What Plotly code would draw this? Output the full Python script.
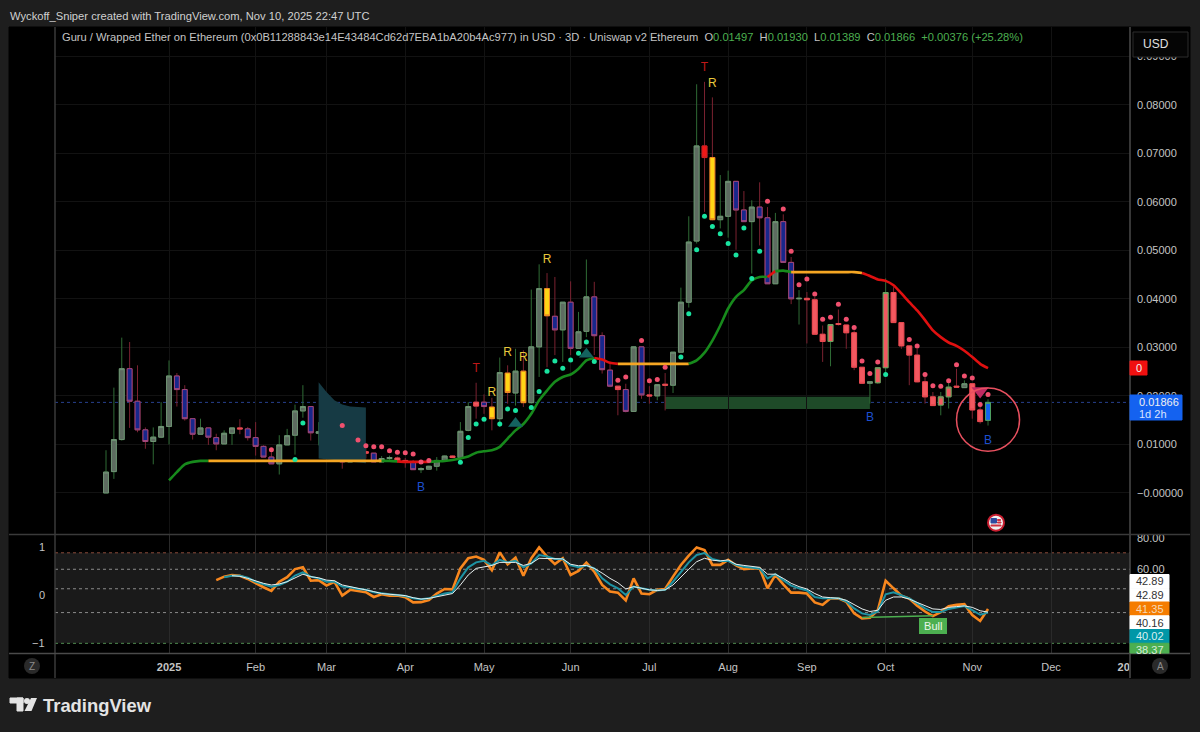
import pandas as pd
import plotly.graph_objects as go

bar_dates = pd.date_range("2024-12-08", periods=113, freq="3D")

bar_open = [
    0.0000, .0044, .0110, .0256, .0189, .0130, .0106, .0115, .0137, .0241,
    .0213, .0153, .0121, .0134, .0114, .0101, .0123, .0134, .0132, .0114,
    .0096, .0074, .0060, .0099, .0119, .0169, .0178, .0123, .0126, .0104,
    .0127, .0064, .0090, .0085, .0082, .0064, .0071, .0072, .0067, .0064,
    .0048, .0049, .0055, .0067, .0076, .0073, .0129, .0187, .0187, .0177,
    .0153, .0247, .0206, .0251, .0186, .0301, .0421, .0364, .0336, .0393,
    .0298, .0333, .0404, .0324, .0253, .0220, .0213, .0168, .0301, .0202,
    .0200, .0224, .0222, .0290, .0393, .0519, .0715, .0691, .0563, .0570,
    .0642, .0583, .0559, .0589, .0567, .0431, .0559, .0475, .0400, .0401,
    .0398, .0327, .0312, .0349, .0346, .0330, .0259, .0226, .0227, .0258,
    .0413, .0351, .0303, .0284, .0229, .0198, .0181, .0198, .0220, .0217,
    .0225, .0171, .01497,
]
bar_high = [
    .0088, .0217, .0320, .0311, .0263, .0135, .0135, .0187, .0273, .0247,
    .0222, .0153, .0153, .0134, .0122, .0129, .0134, .0152, .0136, .0146,
    .0098, .0084, .0119, .0132, .0182, .0222, .0178, .0146, .0146, .0155,
    .0137, .0108, .0105, .0092, .0082, .0076, .0077, .0075, .0072, .0068,
    .0053, .0056, .0074, .0077, .0077, .0146, .0187, .0227, .0203, .0196,
    .0279, .0263, .0297, .0294, .0419, .0471, .0453, .0445, .0393, .0436,
    .0373, .0481, .0435, .0331, .0266, .0220, .0225, .0301, .0301, .0220,
    .0223, .0247, .0290, .0423, .0570, .0842, .0847, .0815, .0655, .0664,
    .0642, .0622, .0603, .0640, .0589, .0577, .0574, .0486, .0418, .0414,
    .0404, .0345, .0347, .0378, .0346, .0335, .0259, .0229, .0258, .0442,
    .0424, .0351, .0303, .0297, .0239, .0208, .0208, .0229, .0256, .0232,
    .0225, .0187, .01930,
]
bar_low = [
    0.0000, .0029, .0108, .0134, .0125, .0091, .0059, .0113, .0100, .0178,
    .0149, .0110, .0121, .0099, .0088, .0101, .0099, .0121, .0108, .0077,
    .0074, .0060, .0038, .0099, .0079, .0155, .0108, .0098, .0098, .0084,
    .0050, .0064, .0064, .0071, .0064, .0064, .0064, .0062, .0052, .0048,
    .0041, .0049, .0046, .0066, .0072, .0072, .0127, .0153, .0163, .0129,
    .0136, .0184, .0180, .0177, .0184, .0239, .0259, .0284, .0270, .0284,
    .0298, .0321, .0284, .0246, .0218, .0160, .0166, .0168, .0194, .0184,
    .0191, .0170, .0206, .0290, .0382, .0514, .0579, .0562, .0545, .0526,
    .0501, .0559, .0452, .0510, .0431, .0431, .0475, .0389, .0347, .0308,
    .0327, .0270, .0261, .0345, .0297, .0253, .0226, .0184, .0225, .0249,
    .0351, .0297, .0222, .0228, .0184, .0180, .0160, .0174, .0217, .0217,
    .0153, .0143, .01389,
]
bar_close = [
    .0043, .0110, .0256, .0189, .0130, .0106, .0115, .0137, .0241, .0213,
    .0153, .0121, .0134, .0115, .0101, .0123, .0134, .0132, .0114, .0096,
    .0074, .0060, .0099, .0118, .0169, .0178, .0124, .0126, .0105, .0127,
    .0064, .0090, .0085, .0082, .0064, .0071, .0073, .0066, .0064, .0048,
    .0050, .0055, .0067, .0076, .0073, .0127, .0178, .0179, .0178, .0153,
    .0248, .0207, .0251, .0186, .0301, .0421, .0365, .0336, .0393, .0298,
    .0332, .0404, .0324, .0254, .0220, .0213, .0168, .0301, .0202, .0200,
    .0223, .0222, .0290, .0393, .0517, .0715, .0691, .0563, .0570, .0642,
    .0583, .0559, .0589, .0567, .0431, .0559, .0475, .0400, .0401, .0398,
    .0327, .0312, .0347, .0347, .0330, .0259, .0226, .0229, .0258, .0413,
    .0351, .0303, .0284, .0229, .0198, .0180, .0198, .0218, .0218, .0225,
    .0171, .0147, .01866,
]
# u grey up, d blue down, y yellow, r red, c coral, g coral with green edge, b last bar
bar_kind = (
    "uuu" "ddd" "uuu" "ddd" "u" "dd" "uu" "c" "dddd" "uuuu" "d" "u" "d" "u" "d" "u"
    "cc" "d" "uu" "cc" "d" "uuuu" "c" "uu" "c" "d"
    "y" "u" "y" "u" "y" "uu" "y" "d" "u" "d" "uu" "ddd" "c" "d" "u" "d" "c" "u" "c"
    "uuuu" "r" "y" "uu" "dd" "u" "dd" "u" "dd" "u" "ccc" "g" "cccc"
    "u" "gg" "cccccc" "gg" "c" "u" "cc" "b"
)
assert len(bar_kind) == len(bar_open)

green_dot_bar = [24, 25, 45, 46, 47, 48, 50, 51, 52, 54, 55, 56, 57, 58, 59, 60, 61, 62,
                 73, 74, 75, 76, 77, 78, 79, 80, 81, 82, 83, 99]
green_dot_price = [.0069, .0144, .0063, .0114, .0142, .0152, .0142, .0173, .0170, .0176,
                   .0209, .0251, .0272, .0257, .0274, .0288, .0311, .0271,
                   .0280, .0369, .0501, .0570, .0549, .0534, .0514, .0490, .0546, .0442, .0498, .0244]
red_dot_bar = [21, 30, 32, 33, 34, 35, 36, 37, 38, 39, 40, 41, 65, 66, 68, 69, 70, 71,
               84, 86, 87, 88, 89, 90, 91, 92, 93, 94, 95, 96, 97, 98,
               102, 103, 104, 105, 106, 107, 108, 109, 110, 111, 112]
red_dot_price = [.0089, .0139, .0109, .0097, .0095, .0095, .0087, .0084, .0083, .0080, .0064, .0067,
                 .0232, .0239, .0314, .0231, .0234, .0259,
                 .0601, .0585, .0498, .0429, .0441, .0410, .0358, .0362, .0389, .0358, .0341, .0272, .0246, .0270,
                 .0316, .0303, .0244, .0221, .0220, .0231, .0264, .0241, .0237, .0182, .0203]

trend_first_bar = 8
trend_value = [
    .0026, .0043, .0059, .0064, .0066,
    .0066, .0066, .0066, .0066, .0066, .0066, .0066, .0066, .0066, .0066, .0066,
    .0066, .0066, .0066, .0066, .0066, .0066, .0066, .0066, .0066, .0066, .0066,
    .0066, .0066,
    .0065, .0064, .0064, .0064,
    .0064, .0065, .0066, .0068, .0071, .0075, .0083, .0086, .0088, .0095, .0112,
    .0129, .0142, .0163, .0191, .0211, .0229, .0239, .0244, .0256, .0273,
    .0278, .0275, .0268,
    .0266, .0266, .0266, .0266, .0266, .0266, .0266, .0266, .0266,
    .0266, .0273, .0289, .0314, .0345, .0380, .0404, .0418, .0438, .0445,
    .0445,
    .0457, .0458,
    .0455, .0455, .0455, .0455, .0455, .0455, .0455, .0455, .0455,
    .0453, .0447, .0440, .0437, .0428, .0411, .0393, .0376, .0356, .0335, .0321,
    .0310, .0303, .0293, .0280, .0266, .0257,
]
trend_state = "g" * 5 + "o" * 22 + "g" * 2 + "r" * 4 + "g" * 21 + "r" * 3 + "o" * 9 + "g" * 10 + "r" + "g" * 2 + "o" * 9 + "r" * 17

shade_bar = [27, 28, 29, 30, 31, 32, 33, 33, 27]
shade_price = [.0228, .0208, .0191, .0182, .0178, .0177, .0176, .0061, .0071]

zone_bars = (71, 97)
zone_prices = (.0173, .0198)
last_price = 0.01866

arrow_up_bar = [52, 61]
arrow_up_price = [.0143, .0286]
arrow_down_bar = [111]
arrow_down_price = [.0210]

t_bar, t_price = [47, 76], [.0256, .0875]
r_bar, r_price = [49, 51, 53, 56, 77], [.0206, .0288, .0279, .0480, .0842]
b_bar, b_price = [40, 97, 112], [.0011, .0155, .0108]

rsi_first_bar = 14
rsi_value = [
    54.2, 56.0, 56.9, 56.5, 54.8, 52.6, 50.7, 49.0, 53.4, 55.7, 60.1, 61.1, 53.9, 54.2, 51.5, 53.4,
    46.9, 49.5, 49.0, 48.4, 46.3, 47.5, 46.9, 46.9, 46.2, 44.0, 44.1, 45.0, 47.8, 49.9, 49.7, 60.5,
    66.5, 67.6, 65.5, 59.5, 70.3, 62.8, 66.9, 56.5, 66.5, 73.6, 67.6, 63.0, 66.5, 56.9, 59.1, 63.8,
    58.7, 51.8, 48.7, 48.2, 44.8, 55.1, 47.8, 47.5, 49.5, 49.9, 56.0, 62.5, 68.2, 73.6, 71.8, 62.5,
    62.5, 65.5, 62.2, 60.1, 60.5, 60.5, 50.2, 56.9, 52.1, 48.2, 48.2, 47.8, 44.0, 43.0, 45.7, 45.7,
    44.3, 39.7, 37.9, 38.1, 40.9, 53.9, 50.2, 46.9, 45.6, 42.7, 40.4, 38.7, 40.2, 42.5, 43.0, 43.3,
    39.1, 37.0, 41.35,
]
teal_first_bar = 15
teal_value = [
    55.7, 56.5, 56.5, 55.4, 53.4, 52.1, 51.0, 51.8, 53.4, 56.5, 58.3, 56.0, 55.1, 53.4, 53.4, 51.0,
    50.7, 49.9, 49.5, 48.4, 47.8, 47.5, 47.2, 46.7, 45.7, 45.3, 45.7, 46.9, 47.8, 48.4, 55.1, 61.1,
    64.0, 64.9, 62.2, 65.5, 64.0, 64.9, 61.1, 63.4, 68.6, 67.6, 66.1, 66.1, 62.2, 61.1, 62.2, 60.5,
    55.1, 52.1, 50.2, 47.2, 51.0, 50.2, 49.5, 49.2, 49.5, 53.4, 58.7, 64.0, 68.6, 69.8, 66.1, 64.9,
    64.9, 62.5, 61.5, 61.0, 60.5, 55.1, 57.3, 54.2, 51.5, 50.2, 49.2, 46.3, 45.7, 45.7, 45.7, 44.5,
    41.6, 39.7, 39.1, 40.4, 47.5, 48.4, 47.2, 45.7, 43.7, 41.6, 40.2, 40.2, 41.4, 42.0, 42.5, 40.9,
    39.2, 40.02,
]
white_first_bar = 16
white_value = [
    56.5, 56.2, 55.1, 53.8, 52.6, 51.8, 52.3, 53.4, 55.4, 57.3, 56.0, 55.4, 54.2, 53.9, 51.8, 51.0,
    50.2, 49.7, 48.7, 47.8, 47.5, 47.2, 46.9, 46.0, 45.4, 45.7, 46.3, 47.2, 47.8, 51.8, 56.9, 60.5,
    61.5, 62.2, 64.0, 64.0, 64.0, 62.2, 63.4, 66.5, 66.5, 66.1, 66.1, 62.9, 62.0, 62.2, 60.5, 57.9,
    55.1, 52.9, 49.9, 51.0, 50.2, 49.5, 49.2, 49.5, 51.8, 56.0, 60.0, 64.4, 66.5, 65.3, 64.9, 65.5,
    62.9, 62.2, 61.5, 61.1, 57.3, 57.3, 55.1, 52.6, 51.0, 49.9, 47.8, 46.3, 46.0, 45.7, 44.9, 43.0,
    41.4, 40.4, 40.9, 44.9, 46.3, 46.3, 45.4, 44.0, 42.7, 41.4, 41.2, 42.0, 42.3, 42.6, 42.0, 40.7,
    40.16,
]
bull_bar = [96, 105]
bull_value = [38.2, 38.8]

month_labels = ["<b>2025</b>", "Feb", "Mar", "Apr", "May", "Jun", "Jul", "Aug", "Sep", "Oct", "Nov", "Dec", "<b>2026</b>"]
month_ticks = ["2025-01-01", "2025-02-03", "2025-03-02", "2025-04-01", "2025-05-01", "2025-06-03", "2025-07-03",
               "2025-08-02", "2025-09-01", "2025-10-01", "2025-11-03", "2025-12-03", "2026-01-02"]
price_ticks = [0, .01, .02, .03, .04, .05, .06, .07, .08, .09]
price_labels = ["−0.00000", "0.01000", "0.02000", "0.03000", "0.04000", "0.05000", "0.06000", "0.07000", "0.08000", "0.09000"]
rsi_ticks = [60, 80]
rsi_labels = ["60.00", "80.00"]
rsi_levels = [70, 60, 50, 40, 30]
rsi_level_colors = ["#8a4a3a", "#8a8a8a", "#8a8a8a", "#8a8a8a", "#4f8a4f"]

value_labels = ["42.89", "42.89", "41.35", "40.16", "40.02", "38.37"]
value_fills = ["#ffffff", "#ffffff", "#f57c00", "#ffffff", "#0097a7", "#4caf50"]
value_texts = ["#333333", "#333333", "#f4d9b8", "#333333", "#d8f0f2", "#d8ecd8"]

FONT = "Liberation Sans, Arial, sans-serif"
TEXT = "#c4c4c4"
PANEL = "#000000"
BODY_STYLE = {
    "u": ("#5d6c60", "#6f9274"),
    "d": ("#18278c", "#a0487c"),
    "y": ("#ffd515", "#ee8a22"),
    "r": ("#f01818", "#d02020"),
    "c": ("#f25860", "#e84a50"),
    "g": ("#f25860", "#6fa060"),
    "b": ("#1262f0", "#50a060"),
}
TREND_COLOR = {"g": "#178a1c", "o": "#f5a623", "r": "#e01010"}


def px(x):
    return (x - 55) / 1075


def py(y):
    return (653 - y) / 626


def panel_rect(x0, y0, x1, y1, fill, line=None, layer="below"):
    return dict(
        type="rect", xref="paper", yref="paper", x0=px(x0), x1=px(x1), y0=py(y0), y1=py(y1),
        fillcolor=fill, line=dict(color=line or fill, width=1), layer=layer,
    )


def panel_line(x0, y0, x1, y1, color):
    return dict(
        type="line", xref="paper", yref="paper", x0=px(x0), x1=px(x1), y0=py(y0), y1=py(y1),
        line=dict(color=color, width=1.5), layer="above",
    )


def panel_text(x, y, text, size=11, color=TEXT, anchor="left"):
    return dict(
        xref="paper", yref="paper", x=px(x), y=py(y), text=text, showarrow=False,
        xanchor=anchor, yanchor="middle", font=dict(family=FONT, size=size, color=color),
    )


fig = go.Figure()

fig.add_trace(go.Scatter(
    x=bar_dates[shade_bar], y=shade_price, mode="lines", fill="toself",
    fillcolor="#163a44", line=dict(width=0), hoverinfo="skip",
))

# wicks first, bodies on top so the wick can be darker than the body edge
fig.add_trace(go.Candlestick(
    x=bar_dates, open=bar_open, high=bar_high, low=bar_low, close=bar_close,
    increasing=dict(line=dict(color="#2f6b35", width=1), fillcolor="#2f6b35"),
    decreasing=dict(line=dict(color="#7a2230", width=1), fillcolor="#7a2230"),
    whiskerwidth=0,
))
for kind, (fill, edge) in BODY_STYLE.items():
    idx = [i for i, k in enumerate(bar_kind) if k == kind]
    tops = [max(bar_open[i], bar_close[i]) for i in idx]
    bottoms = [min(bar_open[i], bar_close[i]) for i in idx]
    fig.add_trace(go.Candlestick(
        x=bar_dates[idx], open=[bar_open[i] for i in idx], high=tops, low=bottoms,
        close=[bar_close[i] for i in idx],
        increasing=dict(line=dict(color=edge, width=1), fillcolor=fill),
        decreasing=dict(line=dict(color=edge, width=1), fillcolor=fill),
    ))

# one trace per run of the same state, joined to the next run
start = 0
for i in range(1, len(trend_state) + 1):
    if i == len(trend_state) or trend_state[i] != trend_state[start]:
        end = min(i + 1, len(trend_state))
        fig.add_trace(go.Scatter(
            x=bar_dates[trend_first_bar + start:trend_first_bar + end],
            y=trend_value[start:end], mode="lines", hoverinfo="skip",
            line=dict(color=TREND_COLOR[trend_state[start]], width=2.6, shape="spline", smoothing=0.6),
        ))
        start = i

fig.add_trace(go.Scatter(x=bar_dates[green_dot_bar], y=green_dot_price, mode="markers",
                         marker=dict(color="#19e3a0", size=5), hoverinfo="skip"))
fig.add_trace(go.Scatter(x=bar_dates[red_dot_bar], y=red_dot_price, mode="markers",
                         marker=dict(color="#f0506e", size=5), hoverinfo="skip"))
fig.add_trace(go.Scatter(x=bar_dates[arrow_up_bar], y=arrow_up_price, mode="markers",
                         marker=dict(color="#14625f", size=13, symbol="triangle-up"), hoverinfo="skip"))
fig.add_trace(go.Scatter(x=bar_dates[arrow_down_bar], y=arrow_down_price, mode="markers",
                         marker=dict(color="#c02a62", size=15, symbol="triangle-down"), hoverinfo="skip"))

for bars, prices, letter, color in [
    (t_bar, t_price, "T", "#c01818"),
    (r_bar, r_price, "R", "#e8c93c"),
    (b_bar, b_price, "B", "#1c4fd0"),
]:
    fig.add_trace(go.Scatter(
        x=bar_dates[bars], y=prices, mode="text", text=[letter] * len(bars), hoverinfo="skip",
        textfont=dict(family=FONT, size=12, color=color),
    ))

for first, values, color, width in [
    (rsi_first_bar, rsi_value, "#f8871e", 2.6),
    (teal_first_bar, teal_value, "#1d93a3", 2),
    (white_first_bar, white_value, "#e8f0f0", 1),
]:
    fig.add_trace(go.Scatter(
        x=bar_dates[first:first + len(values)], y=values, mode="lines", xaxis="x2", yaxis="y2",
        line=dict(color=color, width=width), hoverinfo="skip",
    ))
fig.add_trace(go.Scatter(
    x=bar_dates[bull_bar], y=bull_value, mode="lines", xaxis="x2", yaxis="y2",
    line=dict(color="#4caf50", width=1.5), hoverinfo="skip",
))

shapes = [
    panel_rect(9, 27, 1190, 678, PANEL),
    dict(type="rect", xref="x", yref="y", x0=bar_dates[zone_bars[0]], x1=bar_dates[zone_bars[1]],
         y0=zone_prices[0], y1=zone_prices[1], fillcolor="#1e4a28", line=dict(width=0), layer="below"),
    dict(type="rect", xref="paper", yref="y2", x0=0, x1=1, y0=rsi_levels[-1], y1=rsi_levels[0],
         fillcolor="#1a1a1a", line=dict(width=0), layer="below"),
    dict(type="line", xref="paper", yref="y", x0=0, x1=1, y0=last_price, y1=last_price,
         line=dict(color="#27408f", width=1, dash="dot"), layer="below"),
    dict(type="circle", xref="x", yref="y", x0=bar_dates[108], x1=bar_dates[112] + (bar_dates[112] - bar_dates[108]),
         y0=.0086, y1=.0216, line=dict(color="#e8505f", width=1.5), layer="above"),
]
for level, color in zip(rsi_levels, rsi_level_colors):
    shapes.append(dict(type="line", xref="paper", yref="y2", x0=0, x1=1, y0=level, y1=level,
                       line=dict(color=color, width=1, dash="dot"), layer="below"))

# panel chrome: axis strip, separators, buttons, price tags
shapes += [
    panel_rect(1130, 653.5, 1190, 678, PANEL, layer="above"),
    panel_line(55, 27, 55, 678, "#3a3a3a"),
    panel_line(1130, 27, 1130, 678, "#4a4a4a"),
    panel_line(9, 534.5, 1190, 534.5, "#3a3a3a"),
    panel_line(9, 653.5, 1190, 653.5, "#4a4a4a"),
    panel_rect(1133, 32, 1188, 57, "#050505", "#2c2c2c", layer="above"),
    panel_rect(1130, 361, 1147, 375, "#f01010", layer="above"),
    panel_rect(1130, 395, 1182, 420, "#1462f0", layer="above"),
    dict(type="circle", xref="paper", yref="paper", x0=px(24), x1=px(40), y0=py(674), y1=py(658),
         fillcolor="#2a2a2a", line=dict(width=0), layer="above"),
    dict(type="circle", xref="paper", yref="paper", x0=px(1152), x1=px(1168), y0=py(674), y1=py(658),
         fillcolor="#2a2a2a", line=dict(width=0), layer="above"),
    # economic event flag
    dict(type="circle", xref="paper", yref="paper", x0=px(988), x1=px(1004), y0=py(530.7), y1=py(514.7),
         fillcolor="#f0f0f0", line=dict(color="#c81e30", width=2), layer="above"),
    panel_rect(991, 518.5, 996.5, 523, "#2f4a9f", layer="above"),
    panel_rect(997.5, 519.5, 1000.5, 520.5, "#d03040", layer="above"),
    panel_rect(997.5, 522, 1001, 523, "#d03040", layer="above"),
    panel_rect(991, 525, 1001, 526, "#d03040", layer="above"),
    # TradingView mark
    panel_rect(10, 698, 23, 703, "#e4e4e4"),
    panel_rect(17, 698, 23, 711, "#e4e4e4"),
    dict(type="circle", xref="paper", yref="paper", x0=px(24), x1=px(30), y0=py(704), y1=py(698),
         fillcolor="#e4e4e4", line=dict(width=0), layer="below"),
    dict(type="path", xref="paper", yref="paper", fillcolor="#e4e4e4", line=dict(width=0), layer="below",
         path=f"M{px(31)},{py(698)} L{px(37)},{py(698)} L{px(31.5)},{py(711)} L{px(24.5)},{py(711)} Z"),
]
for i, (label, fill) in enumerate(zip(value_labels, value_fills)):
    top = 574.5 + i * 13.75
    shapes.append(panel_rect(1130, top, 1169, min(top + 13.75, 653), fill, layer="above"))

green = "#4caf50"
legend_text = (
    "Guru / Wrapped Ether on Ethereum (0x0B11288843e14E43484Cd62d7EBA1bA20b4Ac977) in USD · 3D · Uniswap v2 Ethereum"
    f"  O<span style='color:{green}'>0.01497</span>"
    f"  H<span style='color:{green}'>0.01930</span>"
    f"  L<span style='color:{green}'>0.01389</span>"
    f"  C<span style='color:{green}'>0.01866</span>"
    f"  <span style='color:{green}'>+0.00376 (+25.28%)</span>"
)
annotations = [
    panel_text(8, 15.5, "Wyckoff_Sniper created with TradingView.com, Nov 10, 2025 22:47 UTC", size=11.2, color="#d0d0d0"),
    panel_text(60, 37, legend_text, size=11.15),
    panel_text(1141, 44.5, "USD", size=12, color="#e0e0e0"),
    panel_text(1138.5, 368, "0", size=11, color="#f0f0f0", anchor="center"),
    panel_text(1137, 401.5, "0.01866", size=11, color="#f0f0f0"),
    panel_text(1137, 413.5, "1d 2h", size=11, color="#d8e4ff"),
    panel_text(47, 547, "1", size=11, anchor="right"),
    panel_text(47, 595, "0", size=11, anchor="right"),
    panel_text(47, 643, "−1", size=11, anchor="right"),
    panel_text(32, 666, "Z", size=10, color="#8a8a8a", anchor="center"),
    panel_text(1160, 666, "A", size=10, color="#8a8a8a", anchor="center"),
    panel_text(41, 705, "<b>TradingView</b>", size=18.4, color="#e4e4e4"),
    dict(xref="x2", yref="paper", x=bar_dates[105], y=py(626), text=" Bull ", showarrow=False,
         yanchor="middle", bgcolor="#4caf50", bordercolor="#4caf50", borderpad=1,
         font=dict(family=FONT, size=11, color="#eaf6ea")),
]
for i, (label, color) in enumerate(zip(value_labels, value_texts)):
    annotations.append(panel_text(1149.5, 581.4 + i * 13.75, label, size=11, color=color, anchor="center"))

x_range = ["2024-11-18 13:40", "2026-01-02 02:00"]
fig.update_layout(
    width=1200,
    height=732,
    margin=dict(l=55, r=70, t=27, b=79),
    paper_bgcolor="#1e1e1e",
    plot_bgcolor=PANEL,
    showlegend=False,
    hovermode=False,
    boxmode="overlay",
    boxgap=0.38,
    boxgroupgap=0,
    shapes=shapes,
    annotations=annotations,
    xaxis=dict(
        domain=[0, 1], anchor="y", range=x_range, rangeslider=dict(visible=False),
        tickmode="array", tickvals=month_ticks, showticklabels=False, ticks="",
        showgrid=True, gridcolor="#121212", zeroline=False, showline=False,
    ),
    yaxis=dict(
        domain=[py(534.5), 1], range=[-0.00856, 0.0960], side="right", anchor="x",
        tickmode="array", tickvals=price_ticks, ticktext=price_labels, ticks="",
        ticklabelstandoff=6, tickfont=dict(family=FONT, size=11, color=TEXT),
        showgrid=True, gridcolor="#121212", zeroline=False, showline=False,
    ),
    xaxis2=dict(
        domain=[0, 1], anchor="y2", range=x_range, matches="x",
        tickmode="array", tickvals=month_ticks, ticktext=month_labels, ticks="",
        ticklabelstandoff=6, tickfont=dict(family=FONT, size=11, color=TEXT),
        showgrid=True, gridcolor="#2a2a2a", zeroline=False, showline=False,
    ),
    yaxis2=dict(
        domain=[0, py(535)], type="log", range=[1.4378, 1.9175], side="right", anchor="x2",
        tickmode="array", tickvals=rsi_ticks, ticktext=rsi_labels, ticks="",
        ticklabelstandoff=6, tickfont=dict(family=FONT, size=11, color=TEXT),
        showgrid=False, zeroline=False, showline=False,
    ),
)

fig.write_html(
    "out.html",
    config=dict(displayModeBar=False),
    post_script="document.body.style.margin='0';document.body.style.background='#1e1e1e';document.body.style.overflow='hidden';",
)
